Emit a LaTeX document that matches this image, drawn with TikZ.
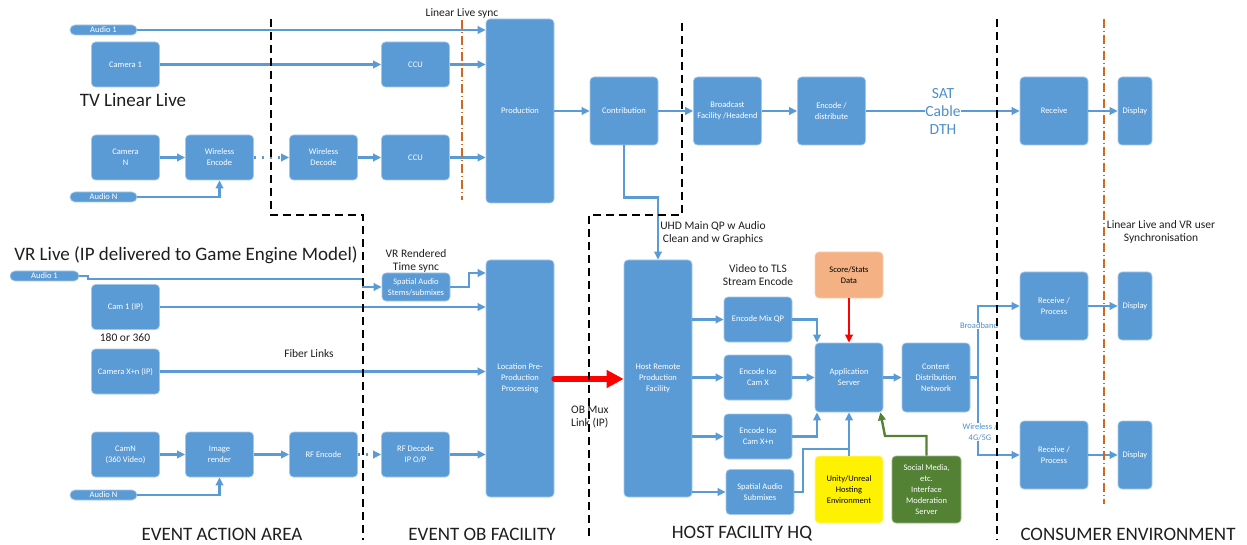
\documentclass[tikz,border=0pt]{standalone}
\usepackage{fontspec}
\setmainfont{Carlito}
\usetikzlibrary{arrows.meta}
\definecolor{vblue}{HTML}{5B9BD5}
\definecolor{vtext}{HTML}{4F8FCB}
\definecolor{syncor}{HTML}{D0691F}
\definecolor{scorefill}{HTML}{F4B183}
\definecolor{socialfill}{HTML}{548235}
\definecolor{inkgray}{HTML}{1E1E1E}
\begin{document}
\begin{tikzpicture}[x=1pt,y=-1pt,
  box/.style={rounded corners=4pt, fill=vblue, draw=vblue!55!white, line width=0.7pt,
    text=white, font=\fontsize{8.5}{11}\selectfont, align=center, inner sep=1pt,
    minimum width=68pt, minimum height=45pt},
  pill/.style={box, rounded corners=5pt, minimum width=67pt, minimum height=10pt,
    inner sep=0pt, font=\fontsize{8.5}{8.5}\selectfont},
  link/.style={draw=vblue, line width=2.4pt},
  arr/.style={link, -{Triangle[length=8pt,width=7.5pt]}},
  dotarr/.style={draw=vblue, line width=2.2pt, dash pattern=on 2pt off 6pt,
    -{Triangle[length=8pt,width=7.5pt]}},
  hotarr/.style={draw=red, line width=2.4pt, -{Triangle[length=8pt,width=7.5pt]}},
  obarr/.style={draw=red, line width=6pt, line cap=round, -{Triangle[length=17pt,width=17pt]}},
  modarr/.style={draw=socialfill, line width=2.4pt, -{Triangle[length=8pt,width=7.5pt]}},
  zone/.style={draw=black, line width=1.6pt, dash pattern=on 8pt off 5pt},
  syncline/.style={draw=syncor, line width=1.3pt, dash pattern=on 9pt off 3pt on 1pt off 3pt},
  note/.style={text=inkgray, font=\fontsize{11.5}{13.5}\selectfont, align=center, inner sep=0pt},
  title/.style={text=inkgray, font=\fontsize{19}{22}\selectfont, inner sep=0pt},
  bluenote/.style={text=vtext, fill=white, font=\fontsize{8.5}{10.5}\selectfont, align=center, inner sep=0.5pt}
]
\useasboundingbox (0,0) rectangle (1247,545);

% ---------------- TV linear live chain ----------------
\node[pill] (aud1t) at (103.5,30) {Audio 1};
\node[box] (cam1) at (125.5,64.5) {Camera 1};
\node[box] (camN) at (125.5,157.5) {Camera\\N};
\node[box] (wenc) at (219.5,157.5) {Wireless\\Encode};
\node[box] (wdec) at (323.5,157.5) {Wireless\\Decode};
\node[box] (ccu1) at (415.5,64.5) {CCU};
\node[box] (ccu2) at (415.5,157.5) {CCU};
\node[pill] (audNt) at (103.5,197) {Audio N};
\node[box, minimum height=184pt] (prod) at (520,111) {Production};
\node[box, minimum height=68pt] (contrib) at (624,111) {Contribution};
\node[box, minimum height=68pt] (bcast) at (727.5,111) {Broadcast\\Facility /Headend};
\node[box, minimum height=68pt] (encd) at (831.5,111) {Encode /\\distribute};
\node[box, minimum height=68pt] (recv1) at (1054,111) {Receive};
\node[box, minimum height=68pt, minimum width=34pt] (disp1) at (1135,111) {Display};

% ---------------- VR live chain ----------------
\node[pill, minimum width=69pt] (aud1v) at (44.5,276) {Audio 1};
\node[box, minimum height=28pt] (spat1) at (416,287) {Spatial Audio\\Stems/submixes};
\node[box] (cam1ip) at (125.5,307) {Cam 1 (IP)};
\node[box] (camxn) at (125.5,371.5) {Camera X+n (IP)};
\node[box, minimum height=237pt] (loc) at (520,378.5) {Location Pre-\\Production\\Processing};
\node[box] (camNv) at (125.5,454.5) {CamN\\(360 Video)};
\node[box] (imgr) at (219.5,454.5) {Image\\render};
\node[box] (rfenc) at (323.5,454.5) {RF Encode};
\node[box] (rfdec) at (415.5,454.5) {RF Decode\\IP O/P};
\node[pill] (audNv) at (103.5,495) {Audio N};

% ---------------- host facility ----------------
\node[box, minimum height=237pt] (host) at (658,378.5) {Host Remote\\Production\\Facility};
\node[box] (emix) at (758,319.5) {Encode Mix QP};
\node[box] (eisox) at (758,377.5) {Encode Iso\\Cam X};
\node[box] (eisoxn) at (758,436.5) {Encode Iso\\Cam X+n};
\node[box] (spat2) at (760,492) {Spatial Audio\\Submixes};
\node[box, minimum height=69pt] (app) at (849,377.5) {Application\\Server};
\node[box, minimum height=46pt, fill=scorefill, draw=scorefill!60!white, text=black] (score) at (849,275) {Score/Stats\\Data};
\node[box, minimum height=67pt, fill=yellow, draw=yellow!50!white, text=black] (unity) at (849,489.5) {Unity/Unreal\\Hosting\\Environment};
\node[box, minimum height=67pt, minimum width=69pt, fill=socialfill, draw=socialfill!60!white] (social) at (926.5,489.5) {Social Media,\\etc.\\Interface\\Moderation\\Server};
\node[box, minimum height=69pt] (cdn) at (936,377.5) {Content\\Distribution\\Network};

% ---------------- consumer ----------------
\node[box, minimum height=68pt] (recv2) at (1054,306) {Receive /\\Process};
\node[box, minimum height=68pt, minimum width=34pt] (disp2) at (1135,306) {Display};
\node[box, minimum height=68pt] (recv3) at (1054,455) {Receive /\\Process};
\node[box, minimum height=68pt, minimum width=34pt] (disp3) at (1135,455) {Display};

% ---------------- TV connectors ----------------
\draw[arr] (aud1t.east) -- (aud1t.east -| prod.west);
\draw[arr] (cam1) -- (ccu1);
\draw[arr] (ccu1) -- (ccu1 -| prod.west);
\draw[arr] (camN) -- (wenc);
\draw[dotarr] (wenc) -- (wdec);
\draw[arr] (wdec) -- (ccu2);
\draw[arr] (ccu2) -- (ccu2 -| prod.west);
\draw[arr] (audNt.east) -| (wenc.south);
\draw[arr] (prod) -- (contrib);
\draw[arr] (contrib) -- (bcast);
\draw[arr] (bcast) -- (encd);
\draw[arr] (encd) -- (recv1);
\node[text=vtext, fill=white, inner sep=0pt, align=center,
  font=\fontsize{15.5}{18}\selectfont] (satlbl) at (943,111) {SAT\\Cable\\DTH};
\draw[arr] (recv1) -- (disp1);
\draw[arr] (contrib.south) |- ++(35,52) -| (host.north);

% ---------------- VR connectors ----------------
\draw[arr] (aud1v.east) -- (88,276) -- (88,279) -- (363,279) |- (spat1.west);
\draw[arr] (spat1.east) -- (469,287) |- (loc.west |- 0,273);
\draw[arr] (cam1ip) -- (cam1ip -| loc.west);
\draw[arr] (camxn) -- (camxn -| loc.west);
\draw[arr] (camNv) -- (imgr);
\draw[arr] (imgr) -- (rfenc);
\draw[dotarr] (rfenc) -- (rfdec);
\draw[arr] (rfdec) -- (rfdec -| loc.west);
\draw[arr] (audNv.east) -| (imgr.south);
\draw[obarr] (loc.east |- 0,379) -- (host.west |- 0,379);

% ---------------- host connectors ----------------
\draw[arr] (host.east |- emix.west) -- (emix.west);
\draw[arr] (host.east |- eisox.west) -- (eisox.west);
\draw[arr] (host.east |- eisoxn.west) -- (eisoxn.west);
\draw[arr] (host.east |- spat2.west) -- (spat2.west);
\draw[arr] (emix.east) -| ([xshift=-32pt]app.north);
\draw[arr] (eisox) -- (app);
\draw[arr] (eisoxn.east) -| ([xshift=-32pt]app.south);
\draw[link] (spat2.east) -- (803,492) |- (unity.north |- 0,449);
\draw[arr] (unity.north) -- (app.south);
\draw[hotarr] (score.south) -- (app.north);
\draw[modarr] (social.north) |- (885,436) -- ([xshift=-3pt]app.south east);
\draw[arr] (app) -- (cdn);
\coordinate (split) at (978,377.5);
\draw[link] (cdn.east) -- (split);
\draw[arr] (split) |- (recv2.west);
\draw[arr] (split) |- (recv3.west);
\draw[arr] (recv2) -- (disp2);
\draw[arr] (recv3) -- (disp3);

% ---------------- labels ----------------
\node[note] (lls) at (462,13) {Linear Live sync};
\node[title] (tvl) at (133,100) {TV Linear Live};
\node[title] (vrl) at (186,255) {VR Live (IP delivered to Game Engine Model)};
\node[note] (vrts) at (416,261) {VR Rendered\\Time sync};
\node[note] (deg) at (125,338) {180 or 360};
\node[note] (fib) at (309,354) {Fiber Links};
\node[note, align=left, anchor=west] (obm) at (571,417) {OB Mux\\Link (IP)};
\node[note] (uhd) at (713,233) {UHD Main QP w Audio\\Clean and w Graphics};
\node[note] (tls) at (758,275) {Video to TLS\\Stream Encode};
\node[bluenote] (bb) at (979,326) {Broadband};
\node[bluenote] (wl) at (980,432) {Wireless /\\4G/5G};
\node[note] (usync) at (1161,232) {Linear Live and VR user\\Synchronisation};
\node[title] (z1) at (222,534) {EVENT ACTION AREA};
\node[title] (z2) at (482,534) {EVENT OB FACILITY};
\node[title] (z3) at (742,534) {HOST FACILITY HQ};
\node[title] (z4) at (1128,534) {CONSUMER ENVIRONMENT};

% ---------------- zone boundaries and sync lines ----------------
\draw[zone] (271,19) -- (271,215) -- (363,215) -- (363,540);
\draw[zone] (682,23) -- (682,215) -- (589,215) -- (589,540);
\draw[zone] (997,19) -- (997,540);
\draw[syncline] (462,20) -- (462,200);
\draw[syncline] (1104,19) -- (1104,504);
\end{tikzpicture}
\end{document}
